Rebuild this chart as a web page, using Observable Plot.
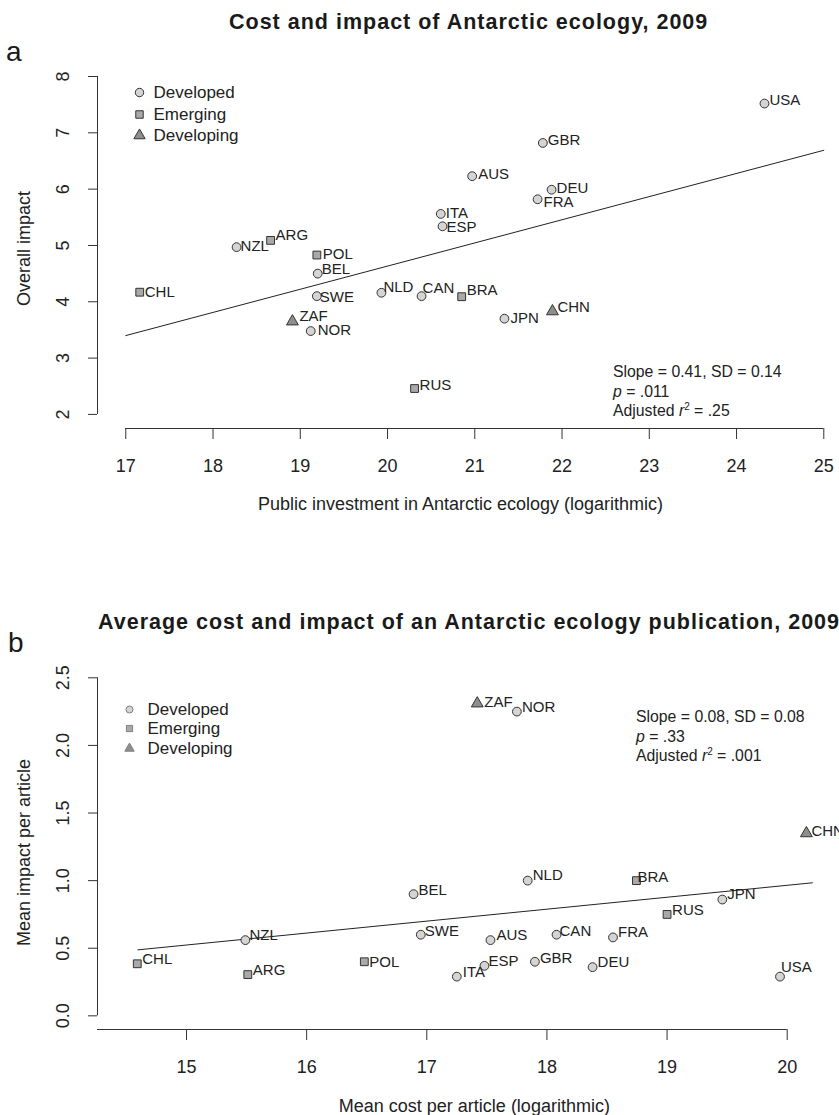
<!DOCTYPE html>
<html>
<head>
<meta charset="utf-8">
<script src="https://cdn.jsdelivr.net/npm/d3@7"></script>
<script src="https://cdn.jsdelivr.net/npm/@observablehq/plot@0.6"></script>
<style>
  body { margin: 0; background: white; }
  #wrap { position: relative; width: 839px; height: 1115px; overflow: hidden; font-family: "Liberation Sans", Arial, Helvetica, sans-serif; color: #222; }
  #wrap svg { display: block; position: absolute; left: 0; }
  .title { position: absolute; font-weight: bold; font-size: 21.5px; letter-spacing: 1px; line-height: 22px; white-space: nowrap; color: #1a1a1a; }
  .panel { position: absolute; font-size: 28px; line-height: 28px; color: #1a1a1a; }
  .stats { position: absolute; font-size: 15.8px; line-height: 19.7px; white-space: nowrap; color: #222; }
  .stats sup { font-size: 10px; line-height: 0; vertical-align: 6px; }
</style>
</head>
<body>
<div id="wrap">
  <div class="title" id="titleA" style="left:229px; top:11px;"></div>
  <div class="panel" style="left:6px; top:38px;">a</div>
  <div class="title" id="titleB" style="left:98px; top:611px;"></div>
  <div class="panel" style="left:8px; top:629px;">b</div>
  <div class="stats" style="left:613px; top:362px;">Slope = 0.41, SD = 0.14<br><i>p</i> = .011<br>Adjusted <i>r</i><sup>2</sup> = .25</div>
  <div class="stats" style="left:636px; top:707px;">Slope = 0.08, SD = 0.08<br><i>p</i> = .33<br>Adjusted <i>r</i><sup>2</sup> = .001</div>
</div>
<script>
// ---------------- data ----------------
const groups = ["Developed", "Emerging", "Developing"];

const codesA = ["USA","GBR","AUS","DEU","FRA","ITA","ESP","NZL","ARG","POL","BEL","CHL","SWE","NLD","ZAF","NOR","CAN","BRA","JPN","CHN","RUS"];
const typesA = ["Developed","Developed","Developed","Developed","Developed","Developed","Developed","Developed","Emerging","Emerging","Developed","Emerging","Developed","Developed","Developing","Developed","Developed","Emerging","Developed","Developing","Emerging"];
const investA = [24.32, 21.78, 20.97, 21.88, 21.72, 20.61, 20.63, 18.27, 18.66, 19.19, 19.20, 17.16, 19.19, 19.93, 18.91, 19.12, 20.39, 20.85, 21.34, 21.89, 20.31];
const impactA = [7.52, 6.82, 6.23, 5.99, 5.82, 5.56, 5.34, 4.97, 5.09, 4.83, 4.50, 4.17, 4.10, 4.16, 3.65, 3.48, 4.10, 4.09, 3.70, 3.83, 2.46];
const fitXA = [17, 25];
const fitYA = [3.40, 6.69];

const codesB = ["ZAF","NOR","CHN","NLD","BRA","BEL","JPN","RUS","SWE","AUS","CAN","FRA","ESP","GBR","ITA","DEU","USA","NZL","CHL","ARG","POL"];
const typesB = ["Developing","Developed","Developing","Developed","Emerging","Developed","Developed","Emerging","Developed","Developed","Developed","Developed","Developed","Developed","Developed","Developed","Developed","Developed","Emerging","Emerging","Emerging"];
const costB = [17.42, 17.75, 20.16, 17.84, 18.745, 16.89, 19.46, 19.00, 16.95, 17.53, 18.08, 18.55, 17.48, 17.90, 17.25, 18.38, 19.94, 15.49, 14.59, 15.51, 16.48];
const impactB = [2.31, 2.25, 1.35, 1.00, 1.00, 0.90, 0.86, 0.75, 0.60, 0.56, 0.60, 0.58, 0.37, 0.40, 0.29, 0.36, 0.29, 0.56, 0.385, 0.305, 0.40];
const fitXB = [14.595, 20.21];
const fitYB = [0.488, 0.984];

const xTicksA = [17, 18, 19, 20, 21, 22, 23, 24, 25];
const yTicksA = [2, 3, 4, 5, 6, 7, 8];
const xTicksB = [15, 16, 17, 18, 19, 20];
const yTicksB = [0, 0.5, 1, 1.5, 2, 2.5];

const titleA = "Cost and impact of Antarctic ecology, 2009";
const titleB = "Average cost and impact of an Antarctic ecology publication, 2009";
const xLabelA = "Public investment in Antarctic ecology (logarithmic)";
const yLabelA = "Overall impact";
const xLabelB = "Mean cost per article (logarithmic)";
const yLabelB = "Mean impact per article";

// ---------------- tables ----------------
const rowsA = codesA.map((c, i) => ({code: c, type: typesA[i], x: investA[i], y: impactA[i]}));
const rowsB = codesB.map((c, i) => ({code: c, type: typesB[i], x: costB[i], y: impactB[i]}));
const fitA = fitXA.map((x, i) => ({x, y: fitYA[i]}));
const fitB = fitXB.map((x, i) => ({x, y: fitYB[i]}));

// ---------------- styling ----------------
const ink = "#222";
const axisInk = "#333";
const symbolScale = {domain: groups, range: ["circle", "square", "triangle"]};
const colorScale = {domain: groups, range: ["#d4d4d4", "#a9a9a9", "#8e8e8e"]};
const font = "'Liberation Sans', Arial, Helvetica, sans-serif";
const tickFont = 18, titleFont = 18, labelFont = 15, legendFont = 17;

// label nudges [dx, dy] (pixels)
const nudgeA = {FRA:[6,3], ITA:[5,-1], ESP:[4,1], NZL:[4,-1], ARG:[5,-5], POL:[6,-1], BEL:[4,-4], CHL:[5,0], SWE:[3,1], NLD:[2,-6], ZAF:[7,-5], NOR:[7,-1], CAN:[1,-8], BRA:[5,-7], JPN:[6,0], CHN:[5,-4], AUS:[6,-2], DEU:[5,-2]};
const nudgeB = {USA:[1,-9], POL:[5,0], ZAF:[7,-1], BRA:[1,-3], CHN:[5,-2], NLD:[5,-5], JPN:[5,-5], AUS:[6,-5], ESP:[4,-5], DEU:[5,-5], FRA:[5,-5], NZL:[4,-5], CHL:[5,-5], ITA:[6,-4], CAN:[3,-4], SWE:[4,-4]};

function labelMarks(rows, nudge, def) {
  const g = d3.groups(rows, d => (nudge[d.code] || def).join(","));
  return g.map(([key, rs]) => {
    const [dx, dy] = key.split(",").map(Number);
    return Plot.text(rs, {x: "x", y: "y", text: "code", dx, dy, textAnchor: "start", lineAnchor: "middle", fontSize: labelFont, fill: ink});
  });
}

function legendMarks(dx, dyRows, textDx, r, stroke) {
  return groups.flatMap((g, i) => [
    Plot.dot([g], {frameAnchor: "top-left", dx, dy: dyRows[i], symbol: d => d, fill: d => d, stroke, strokeWidth: 1, r}),
    Plot.text([g], {frameAnchor: "top-left", dx: textDx, dy: dyRows[i], text: d => d, textAnchor: "start", lineAnchor: "middle", fontSize: legendFont, fill: ink})
  ]);
}

// xLeft: position of the y-axis spine; xLineStart: where the x-axis line begins
function axisMarks(xTicks, yTicks, xLeft, xLineStart, yBottom, xFmt, yFmt, xLabel, yLabel, xLabelDx, xLabelDy) {
  return [
    Plot.ruleY([yBottom], {x1: xLineStart, x2: xTicks[xTicks.length - 1], stroke: axisInk}),
    Plot.ruleX([xLeft], {y1: yTicks[0], y2: yTicks[yTicks.length - 1], stroke: axisInk}),
    Plot.axisX({ticks: xTicks, tickSize: 11, tickPadding: 20, tickFormat: xFmt, fontSize: tickFont, stroke: axisInk, fill: ink, label: null}),
    Plot.axisY({ticks: yTicks, tickSize: 9, tickFormat: () => "", stroke: axisInk, label: null}),
    Plot.text(yTicks, {y: d => d, frameAnchor: "left", dx: -34.3, rotate: -90, text: yFmt, textAnchor: "middle", lineAnchor: "middle", fontSize: tickFont, fill: ink}),
    Plot.text([xLabel], {frameAnchor: "bottom", dx: xLabelDx, dy: xLabelDy, text: d => d, textAnchor: "middle", lineAnchor: "middle", fontSize: titleFont, fill: ink}),
    Plot.text([yLabel], {frameAnchor: "left", dx: -73, rotate: -90, text: d => d, textAnchor: "middle", lineAnchor: "middle", fontSize: titleFont, fill: ink})
  ];
}

// ---------------- panel a ----------------
const xLeftA = 16.676, yBottomA = 1.75;
const plotA = Plot.plot({
  width: 839, height: 560,
  marginLeft: 97, marginRight: 16, marginTop: 68, marginBottom: 132,
  x: {domain: [xLeftA, 25], range: [97, 823.3]},
  y: {domain: [yBottomA, 8], range: [428, 76]},
  symbol: symbolScale,
  color: colorScale,
  style: {fontFamily: font, fontSize: "17px", color: ink, background: "white", overflow: "visible"},
  marks: [
    ...axisMarks(xTicksA, yTicksA, xLeftA, xTicksA[0], yBottomA, d3.format("d"), d3.format("d"), xLabelA, yLabelA, 0, 76),
    Plot.line(fitA, {x: "x", y: "y", stroke: ink, strokeWidth: 1}),
    Plot.dot(rowsA, {x: "x", y: "y", symbol: "type", fill: "type", stroke: "#333", strokeWidth: 1, r: 4.4}),
    ...labelMarks(rowsA, nudgeA, [5, -3]),
    ...legendMarks(42, [24, 46, 67], 56, 4.2, "#333")
  ]
});
plotA.style.top = "0px";

// ---------------- panel b ----------------
const xLeftB = 14.259, yBottomB = -0.101;
const plotB = Plot.plot({
  width: 839, height: 555,
  marginLeft: 97, marginRight: 52.3, marginTop: 115, marginBottom: 86,
  x: {domain: [xLeftB, 20], range: [97, 786.7]},
  y: {domain: [yBottomB, 2.5], range: [469, 117.3]},
  symbol: symbolScale,
  color: colorScale,
  style: {fontFamily: font, fontSize: "17px", color: ink, background: "white", overflow: "visible"},
  marks: [
    ...axisMarks(xTicksB, yTicksB, xLeftB, xLeftB, yBottomB, d3.format("d"), d3.format(".1f"), xLabelB, yLabelB, 32, 77),
    Plot.line(fitB, {x: "x", y: "y", stroke: ink, strokeWidth: 1}),
    Plot.dot(rowsB, {x: "x", y: "y", symbol: "type", fill: "type", stroke: "#333", strokeWidth: 1, r: 4.4}),
    ...labelMarks(rowsB, nudgeB, [5, -4]),
    ...legendMarks(32, [34, 53, 73], 50, 3.5, "#808080")
  ]
});
plotB.style.top = "560px";

const wrap = document.getElementById("wrap");
wrap.insertBefore(plotB, wrap.firstChild);
wrap.insertBefore(plotA, wrap.firstChild);
document.getElementById("titleA").textContent = titleA;
document.getElementById("titleB").textContent = titleB;
</script>
</body>
</html>
